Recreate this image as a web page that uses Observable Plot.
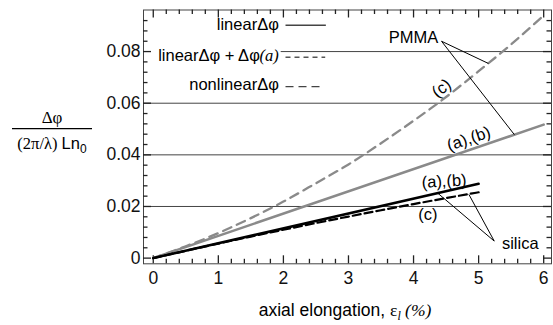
<!DOCTYPE html>
<html><head><meta charset="utf-8">
<script src="https://cdn.jsdelivr.net/npm/d3@7"></script>
<script src="https://cdn.jsdelivr.net/npm/@observablehq/plot@0.6"></script>
<style>
body{margin:0;background:#fff}
#chart{position:relative;width:553px;height:325px}
</style>
</head><body><div id="chart"></div>
<script>
// ---- tick values ----
const xMajor = [0, 1, 2, 3, 4, 5, 6];
const xMinor = [0.2,0.4,0.6,0.8,1.2,1.4,1.6,1.8,2.2,2.4,2.6,2.8,3.2,3.4,3.6,3.8,4.2,4.4,4.6,4.8,5.2,5.4,5.6,5.8];
const yMajor = [0, 0.02, 0.04, 0.06, 0.08];
const yMinor = [0.004,0.008,0.012,0.016,0.024,0.028,0.032,0.036,0.044,0.048,0.052,0.056,0.064,0.068,0.072,0.076,0.084,0.088,0.092];
const yGridFull = [0.02, 0.04, 0.06];
const yGridPartial = [0.08];

// ---- series ----
// PMMA (a),(b): linear Δφ (gray solid)
const pmmaABx = [0, 6];
const pmmaABy = [0, 0.0517];
// PMMA (c): linear Δφ + Δφ(a) (gray dashed)
const pmmaCx = [0, 0.5, 1, 1.5, 2, 2.5, 3, 3.5, 4, 4.5, 5, 5.5, 6];
const pmmaCy = [0, 0.0046, 0.0097, 0.0155, 0.0219, 0.0290, 0.0363, 0.0445, 0.0532, 0.0624, 0.0724, 0.0828, 0.0940];
// silica (a),(b): black solid
const silABx = [0, 5];
const silABy = [0, 0.0288];
// silica (c): nonlinear (black dashed)
const silCx = [0, 0.5, 1, 1.5, 2, 2.5, 3, 3.5, 4, 4.5, 5];
const silCy = [0, 0.00285, 0.00563, 0.00834, 0.01099, 0.01358, 0.01609, 0.01854, 0.02093, 0.02325, 0.0255];

const zip = (xs, ys) => xs.map((x, i) => ({x, y: ys[i]}));
const gray = "#8a8a8a";
const tickColor = "#222";

const xDom = [-0.15, 6.12];
const yDom = [-0.0022, 0.0961];
const pxPerX = (553 - 143 - 2) / (xDom[1] - xDom[0]);
const pxPerY = (325 - 9.5 - 61.7) / (yDom[1] - yDom[0]);
const tx = px => px / pxPerX;
const ty = px => px / pxPerY;

const plot = Plot.plot({
  width: 553,
  height: 325,
  marginLeft: 143,
  marginRight: 2,
  marginTop: 9.5,
  marginBottom: 61.7,
  x: {domain: xDom},
  y: {domain: yDom},
  style: {fontFamily: "'Liberation Sans', Arial, Helvetica, sans-serif", fontSize: "17.5px", background: "white", color: "#111"},
  marks: [
    // grid
    Plot.ruleY(yGridFull, {stroke: "#444", strokeWidth: 1}),
    Plot.ruleY(yGridPartial, {x1: 1.966, x2: xDom[1], stroke: "#444", strokeWidth: 1}),
    // tick labels
    Plot.axisX({anchor: "bottom", ticks: xMajor, tickSize: 0, tickPadding: 8, tickFormat: d => String(d), label: null}),
    Plot.axisY({anchor: "left", ticks: yMajor, tickSize: 0, tickPadding: 3, tickFormat: d => d === 0 ? "0" : d.toFixed(2), label: null}),
    Plot.frame({stroke: "#444", strokeWidth: 1}),
    // inward ticks (bottom, top, left, right; major and minor)
    Plot.ruleX(xMajor, {y1: yDom[0], y2: yDom[0] + ty(8), stroke: tickColor, strokeWidth: 1.3}),
    Plot.ruleX(xMinor, {y1: yDom[0], y2: yDom[0] + ty(4.5), stroke: tickColor, strokeWidth: 1.3}),
    Plot.ruleX(xMajor, {y1: yDom[1], y2: yDom[1] - ty(8), stroke: tickColor, strokeWidth: 1.3}),
    Plot.ruleX(xMinor, {y1: yDom[1], y2: yDom[1] - ty(4.5), stroke: tickColor, strokeWidth: 1.3}),
    Plot.ruleY(yMajor, {x1: xDom[0], x2: xDom[0] + tx(8), stroke: tickColor, strokeWidth: 1.3}),
    Plot.ruleY(yMinor, {x1: xDom[0], x2: xDom[0] + tx(4.5), stroke: tickColor, strokeWidth: 1.3}),
    Plot.ruleY(yMajor, {x1: xDom[1], x2: xDom[1] - tx(8), stroke: tickColor, strokeWidth: 1.3}),
    Plot.ruleY(yMinor, {x1: xDom[1], x2: xDom[1] - tx(4.5), stroke: tickColor, strokeWidth: 1.3}),
    // curves
    Plot.line(zip(pmmaCx, pmmaCy), {x: "x", y: "y", curve: "natural", stroke: gray, strokeWidth: 2.3, strokeDasharray: "9,6"}),
    Plot.line(zip(pmmaABx, pmmaABy), {x: "x", y: "y", stroke: gray, strokeWidth: 2.5}),
    Plot.line(zip(silCx, silCy), {x: "x", y: "y", curve: "natural", stroke: "#000", strokeWidth: 2.2, strokeDasharray: "8,4"}),
    Plot.line(zip(silABx, silABy), {x: "x", y: "y", stroke: "#000", strokeWidth: 2.5}),
    // leader lines
    Plot.link([
      {x1: 4.43, y1: 0.0840, x2: 5.15, y2: 0.0754},
      {x1: 4.43, y1: 0.0840, x2: 5.55, y2: 0.0478},
      {x1: 5.24, y1: 0.0066, x2: 4.37, y2: 0.0252},
      {x1: 5.24, y1: 0.0066, x2: 4.85, y2: 0.0247}
    ], {x1: "x1", y1: "y1", x2: "x2", y2: "y2", stroke: "#000", strokeWidth: 1}),
    // annotations
    Plot.text(["PMMA"], {x: 4.0, y: 0.0855, fontSize: 16.5, fill: "#000"}),
    Plot.text(["silica"], {x: 5.64, y: 0.0057, fontSize: 16.5, fill: "#000"}),
    Plot.text(["(c)"], {x: 4.43, y: 0.0658, rotate: -37, fontSize: 16.5, fill: "#000"}),
    Plot.text(["(a),(b)"], {x: 4.85, y: 0.0462, rotate: -19, fontSize: 16.5, fill: "#000"}),
    Plot.text(["(a),(b)"], {x: 4.47, y: 0.0297, rotate: -3, fontSize: 16.5, fill: "#000"}),
    Plot.text(["(c)"], {x: 4.22, y: 0.0170, fontSize: 16.5, fill: "#000"}),
    // legend
    Plot.text(["linearΔφ"], {x: 1.93, y: 0.0905, textAnchor: "end", fontSize: 16.5, fill: "#000"}),
    Plot.text(["linearΔφ + Δφ"], {x: 1.93, y: 0.0782, dx: -19, textAnchor: "end", fontSize: 16.5, fill: "#000"}),
    Plot.text(["(a)"], {x: 1.93, y: 0.0782, textAnchor: "end", fontSize: 16.5, fontStyle: "italic", fontFamily: "'Liberation Serif', 'Times New Roman', serif", fill: "#000"}),
    Plot.text(["nonlinearΔφ"], {x: 1.93, y: 0.0670, textAnchor: "end", fontSize: 16.5, fill: "#000"}),
    Plot.ruleY([0.0902], {x1: 2.04, x2: 2.66, stroke: "#444", strokeWidth: 1.3}),
    Plot.ruleY([0.0778], {x1: 2.04, x2: 2.65, stroke: "#555", strokeWidth: 1.3, strokeDasharray: "5,4"}),
    Plot.ruleY([0.0664], {x1: 2.04, x2: 2.59, stroke: "#444", strokeWidth: 1.3, strokeDasharray: "8,5"})
  ]
});

document.getElementById("chart").appendChild(plot);

// axis titles with mixed fonts
const svg = d3.select(plot);
const serif = "'Liberation Serif', 'Times New Roman', serif";
const sans = "'Liberation Sans', Arial, Helvetica, sans-serif";
const xs = plot.scale("x"), ys = plot.scale("y");
const xMid = (xs.range[0] + xs.range[1]) / 2;

const xt = svg.append("text")
  .attr("x", xMid - 2).attr("y", 316)
  .attr("text-anchor", "middle")
  .attr("font-size", 17.5).attr("font-family", sans).attr("fill", "#000");
xt.append("tspan").text("axial elongation, ");
xt.append("tspan").attr("font-family", serif).text("ε");
xt.append("tspan").attr("font-family", serif).attr("font-style", "italic").attr("font-size", 12).attr("dy", 4).text("l");
xt.append("tspan").attr("font-family", serif).attr("font-style", "italic").attr("dy", -4).text(" (%)");

const yMidPx = ys.apply(0.05);
const fx = 52;
svg.append("text").attr("x", fx).attr("y", yMidPx - 6)
  .attr("text-anchor", "middle").attr("font-size", 17).attr("font-family", serif).attr("fill", "#000")
  .text("Δφ");
svg.append("line").attr("x1", 12).attr("x2", 92).attr("y1", yMidPx).attr("y2", yMidPx)
  .attr("stroke", "#000").attr("stroke-width", 1.3);
const den = svg.append("text").attr("x", fx).attr("y", yMidPx + 20)
  .attr("text-anchor", "middle").attr("font-size", 16.5).attr("fill", "#000");
den.append("tspan").attr("font-family", serif).text("(2π/λ) ");
den.append("tspan").attr("font-family", sans).text("Ln");
den.append("tspan").attr("font-family", sans).attr("font-size", 12).attr("dy", 4).text("0");
</script>
</body></html>
